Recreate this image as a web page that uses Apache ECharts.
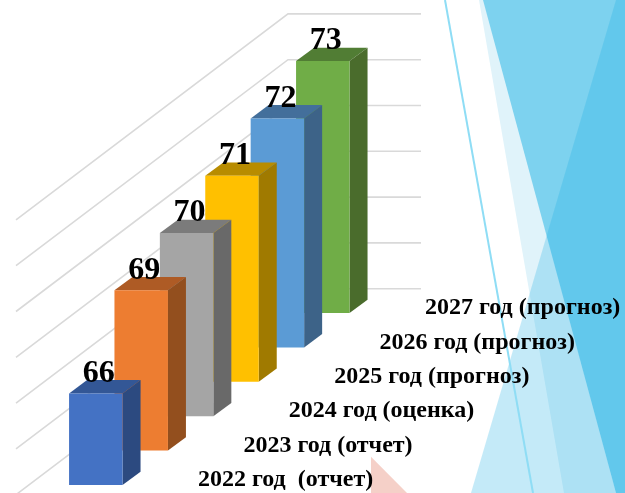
<!DOCTYPE html>
<html>
<head>
<meta charset="utf-8">
<title>chart</title>
<style>
  html, body { margin: 0; padding: 0; background: #fff; }
  #chart { width: 625px; height: 493px; }
</style>
</head>
<body>
<div id="chart"></div>
<script src="https://cdn.jsdelivr.net/npm/echarts@6/dist/echarts.min.js"></script>
<script>
// данные
const categories = ['2022 год  (отчет)', '2023 год (отчет)', '2024 год (оценка)', '2025 год (прогноз)', '2026 год (прогноз)', '2027 год (прогноз)'];
const values = [66, 69, 70, 71, 72, 73];
const gridTicks = [62, 64, 66, 68, 70, 72, 74];

// цвета: перед, верх, бок
const frontColors = ['#4472C4', '#ED7D31', '#A5A5A5', '#FFC000', '#5B9BD5', '#70AD47'];
const topColors = ['#335796', '#AE5B25', '#7B7B7B', '#B88C00', '#436F9B', '#517D34'];
const sideColors = ['#2C4A80', '#934F1E', '#696969', '#A07A00', '#3D6388', '#4A6C2C'];

const SERIF = '"Liberation Serif", "Times New Roman", serif';
const yMin = 62;
const stepY = 34.4;   // сдвиг вверх на каждую категорию
const depthX = 18;
const depthY = 13.3;

const chart = echarts.init(document.getElementById('chart'), '', {renderer: 'canvas'});

function renderBar(params, api) {
  const i = api.value(0);
  const v = api.value(1);
  const shift = i * stepY;
  const w = api.size([1, 0])[0] * 1.178;
  const t = api.coord([i, v]);
  const b = api.coord([i, yMin]);
  const x0 = t[0] - w / 2;
  const x1 = t[0] + w / 2;
  const yt = t[1] - shift;
  const yb = b[1] - shift;
  const z2 = 10 - i;
  return {
    type: 'group',
    children: [
      {
        type: 'polygon', z2: z2,
        shape: {points: [[x0, yt], [x1, yt], [x1 + depthX, yt - depthY], [x0 + depthX, yt - depthY]]},
        style: {fill: topColors[i]}
      },
      {
        type: 'polygon', z2: z2,
        shape: {points: [[x1, yt], [x1 + depthX, yt - depthY], [x1 + depthX, yb - depthY], [x1, yb]]},
        style: {fill: sideColors[i]}
      },
      {
        type: 'rect', z2: z2,
        shape: {x: x0, y: yt, width: w, height: yb - yt},
        style: {fill: frontColors[i]}
      }
    ]
  };
}

// линии сетки: боковая стенка и задняя стенка
function renderGridLine(params, api) {
  const y = api.coord([0, api.value(0)])[1];
  const corner = [288, y - 196.3];
  return {
    type: 'polyline',
    shape: {points: [[16, y + 9.7], corner, [421, corner[1]]]},
    style: {stroke: '#D9D9D9', lineWidth: 1.6, fill: null}
  };
}

function renderValueLabel(params, api) {
  const i = api.value(0);
  const v = api.value(1);
  const t = api.coord([i, v]);
  return {
    type: 'text',
    style: {
      text: String(v),
      x: t[0] + 3,
      y: t[1] - i * stepY - 20,
      align: 'center',
      verticalAlign: 'middle',
      font: 'bold 32px ' + SERIF,
      fill: '#000'
    }
  };
}

function renderCategoryLabel(params, api) {
  const i = api.value(0);
  const b = api.coord([i, yMin]);
  return {
    type: 'text',
    style: {
      text: categories[i],
      x: b[0] + 102.2,
      y: b[1] - i * stepY - 5,
      align: 'left',
      verticalAlign: 'middle',
      font: 'bold 24px ' + SERIF,
      fill: '#000'
    }
  };
}

const barData = values.map((v, i) => [i, v]);

chart.setOption({
  animation: false,
  grid: {left: 73.1, top: 210.2, width: 272.4, height: 274.8},
  xAxis: {type: 'category', data: categories, show: false},
  yAxis: {type: 'value', min: yMin, max: 74, interval: 2, show: false},
  graphic: {
    elements: [
      // фон справа
      {type: 'polygon', silent: true, z: 0, shape: {points: [[479, 0], [484, 0], [616, 493], [564, 493]]}, style: {fill: '#E0F3FA'}},
      {type: 'polygon', silent: true, z: 0, shape: {points: [[483, 0], [625, 0], [625, 493], [616, 493]]}, style: {fill: '#7DD2EF'}},
      {type: 'polygon', silent: true, z: 0, shape: {points: [[616, 0], [625, 0], [625, 493], [471, 493]]}, style: {fill: 'rgba(19,171,227,0.25)'}},
      {type: 'line', silent: true, z: 0, shape: {x1: 445, y1: 0, x2: 533, y2: 493}, style: {stroke: '#8FDDF5', lineWidth: 2}},
      {type: 'polygon', silent: true, z: 0, shape: {points: [[371, 456.7], [407, 493], [371, 493]]}, style: {fill: '#F5D0C8'}}
    ]
  },
  series: [
    {type: 'custom', z: 1, silent: true, clip: false, renderItem: renderGridLine, encode: {y: 0}, data: gridTicks.map(t => [t])},
    {type: 'custom', z: 2, silent: true, clip: false, renderItem: renderBar, encode: {x: 0, y: 1}, data: barData},
    {type: 'custom', z: 3, silent: true, clip: false, renderItem: renderValueLabel, encode: {x: 0, y: 1}, data: barData},
    {type: 'custom', z: 3, silent: true, clip: false, renderItem: renderCategoryLabel, encode: {x: 0, y: 1}, data: barData}
  ]
});

window.addEventListener('resize', function () {
  chart.resize();
});
</script>
</body>
</html>
